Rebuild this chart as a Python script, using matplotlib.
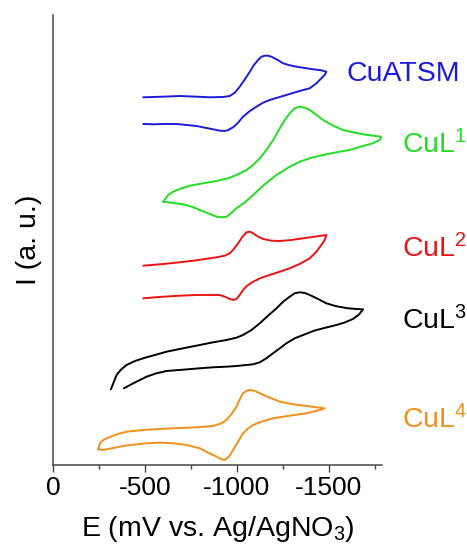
import matplotlib
matplotlib.use("Agg")
import matplotlib.pyplot as plt

plt.rcParams['font.family'] = ['Liberation Sans', 'DejaVu Sans']
plt.rcParams['mathtext.fontset'] = 'custom'
plt.rcParams['mathtext.rm'] = 'Liberation Sans'
plt.rcParams['mathtext.default'] = 'regular'

# Potential (mV) and current (a.u., curves stacked with offsets), traced around each loop
E_atsm = [-491, -600, -690, -781, -853, -926, -962, -989, -1016, -1044, -1071, -1092, -1116,
          -1134, -1152, -1170, -1188, -1216, -1252, -1288, -1324, -1370, -1415, -1460, -1487,
          -1478, -1460, -1433, -1397, -1342, -1288, -1234, -1179, -1143, -1107, -1071, -1034,
          -1007, -980, -953, -935, -908, -871, -826, -781, -727, -672, -600, -545, -491]
I_atsm = [36.77, 36.83, 36.9, 36.83, 36.77, 36.8, 36.9, 37.23, 37.83, 38.57, 39.33, 39.97, 40.5,
          40.83, 40.93, 40.93, 40.83, 40.57, 40.17, 39.97, 39.83, 39.7, 39.57, 39.47, 39.33,
          39.0, 38.67, 38.17, 37.67, 37.4, 37.1, 36.8, 36.5, 36.23, 35.83, 35.4, 34.83,
          34.23, 33.77, 33.5, 33.4, 33.43, 33.57, 33.73, 33.9, 34.0, 34.1, 34.1, 34.07, 34.1]

E_l1 = [-600, -627, -654, -699, -745, -817, -890, -953, -998, -1053, -1089, -1125, -1161, -1198,
        -1234, -1261, -1288, -1315, -1342, -1370, -1397, -1433, -1469, -1524, -1578, -1632, -1687,
        -1741, -1786, -1777, -1741, -1687, -1614, -1541, -1469, -1406, -1342, -1279, -1216, -1152,
        -1089, -1044, -998, -962, -944, -917, -890, -844, -799, -754, -708, -654, -600]
I_l1 = [26.33, 27.0, 27.33, 27.67, 27.93, 28.17, 28.4, 28.67, 29.0, 29.5, 30.0, 30.67, 31.5, 32.5,
        33.67, 34.5, 35.17, 35.67, 35.83, 35.73, 35.5, 35.0, 34.5, 33.93, 33.5, 33.27, 33.07,
        32.93, 32.83, 32.5, 32.17, 31.9, 31.5, 31.27, 31.0, 30.73, 30.33, 29.73, 29.0, 28.07,
        27.0, 26.27, 25.67, 25.07, 24.83, 24.77, 24.83, 25.17, 25.5, 25.83, 26.07, 26.2, 26.33]

E_l2 = [-491, -600, -690, -781, -890, -935, -962, -984, -1007, -1031, -1053, -1071, -1089, -1116,
        -1143, -1188, -1234, -1297, -1361, -1424, -1487, -1478, -1460, -1433, -1397, -1342, -1288,
        -1234, -1179, -1134, -1089, -1056, -1034, -1016, -998, -980, -962, -935, -908, -853,
        -781, -690, -600, -491]
I_l2 = [19.93, 20.1, 20.27, 20.47, 20.77, 20.93, 21.17, 21.6, 22.17, 22.83, 23.27, 23.33, 23.17,
        22.83, 22.6, 22.43, 22.4, 22.5, 22.67, 22.83, 23.0, 22.5, 22.0, 21.33, 20.67, 20.1, 19.67,
        19.33, 19.0, 18.73, 18.33, 17.93, 17.5, 17.0, 16.6, 16.5, 16.6, 16.83, 17.0, 17.0,
        17.0, 16.93, 16.83, 16.67]

E_l3 = [-315, -328, -346, -368, -400, -446, -491, -554, -618, -708, -799, -871, -944, -998,
        -1034, -1080, -1125, -1170, -1216, -1252, -1288, -1315, -1342, -1370, -1397, -1442,
        -1487, -1542, -1605, -1650, -1687, -1665, -1632, -1587, -1542, -1487, -1424, -1361,
        -1315, -1270, -1234, -1197, -1161, -1125, -1089, -1053, -998, -944, -871, -799, -708,
        -618, -563, -509, -473, -437, -409, -386]
I_l3 = [7.57, 8.17, 9.0, 9.5, 10.0, 10.4, 10.67, 11.0, 11.33, 11.67, 12.0, 12.27, 12.5, 12.73,
        13.0, 13.5, 14.17, 14.93, 15.67, 16.33, 16.83, 17.17, 17.27, 17.2, 17.0, 16.6,
        16.17, 15.87, 15.67, 15.6, 15.57, 15.05, 14.6, 14.25, 14.0, 13.75, 13.45, 13.0,
        12.67, 12.17, 11.67, 11.17, 10.67, 10.27, 10.07, 10.0, 9.9, 9.83, 9.77, 9.67, 9.53,
        9.4, 9.17, 8.83, 8.5, 8.17, 7.9, 7.67]

E_l4 = [-246, -255, -274, -292, -337, -400, -509, -654, -781, -871, -917, -944, -971, -998,
        -1016, -1034, -1053, -1071, -1098, -1125, -1179, -1234, -1306, -1379, -1433, -1478,
        -1451, -1379, -1288, -1197, -1134, -1089, -1062, -1034, -1007, -980, -957, -935, -917,
        -890, -844, -799, -727, -654, -582, -509, -437, -382, -328, -274, -246]
I_l4 = [1.57, 2.17, 2.5, 2.67, 3.0, 3.33, 3.53, 3.67, 3.77, 3.9, 4.17, 4.5, 5.1, 5.83,
        6.57, 7.17, 7.43, 7.5, 7.4, 7.17, 6.73, 6.33, 6.07, 5.9, 5.77, 5.67,
        5.5, 5.17, 4.93, 4.67, 4.33, 4.0, 3.67, 3.17, 2.33, 1.5, 0.83, 0.5, 0.57,
        0.83, 1.23, 1.67, 2.0, 2.17, 2.23, 2.17, 2.03, 1.9, 1.7, 1.5, 1.57]

names = ['CuATSM', 'CuL$^1$', 'CuL$^2$', 'CuL$^3$', 'CuL$^4$']
colors = ['#1c1cd8', '#22dd22', '#e81414', '#000000', '#f0901a']
label_x = [-1598, -1897, -1897, -1897, -1897]
label_y = [38.4, 31.2, 20.8, 13.6, 3.7]

curves = [(E_atsm, I_atsm), (E_l1, I_l1), (E_l2, I_l2), (E_l3, I_l3), (E_l4, I_l4)]

fig = plt.figure(figsize=(4.67, 5.51), dpi=100)
ax = fig.add_axes([0.1135, 0.1561, 0.7045, 0.8167])

for (E, I), c in zip(curves, colors):
    ax.plot(E, I, color=c, lw=1.4, solid_joinstyle='round', solid_capstyle='round')

for name, c, lx, ly in zip(names, colors, label_x, label_y):
    ax.text(lx, ly, name, color=c, fontsize=20.5, ha='left', va='baseline', clip_on=False)

ax.set_xlim(0, -1790)
ax.set_ylim(0, 45)
ax.set_xticks([0, -500, -1000, -1500])
ax.set_xticklabels(['0', '-500', '-1000', '-1500'])
ax.set_xticks([-250, -750, -1250, -1750], minor=True)
ax.set_yticks([])
ax.tick_params(axis='x', which='major', length=5, width=1, labelsize=19, pad=3, color='#444444')
ax.tick_params(axis='x', which='minor', length=3, width=1, color='#444444')
for s in ['top', 'right']:
    ax.spines[s].set_visible(False)
for s in ['left', 'bottom']:
    ax.spines[s].set_color('#444444')
    ax.spines[s].set_linewidth(1.1)

ax.set_xlabel('E (mV vs. Ag/AgNO$_3$)', fontsize=20.5, labelpad=10)
ax.set_ylabel('I (a. u.)', fontsize=20.5, labelpad=8)

fig.savefig('out.png', dpi=100)
